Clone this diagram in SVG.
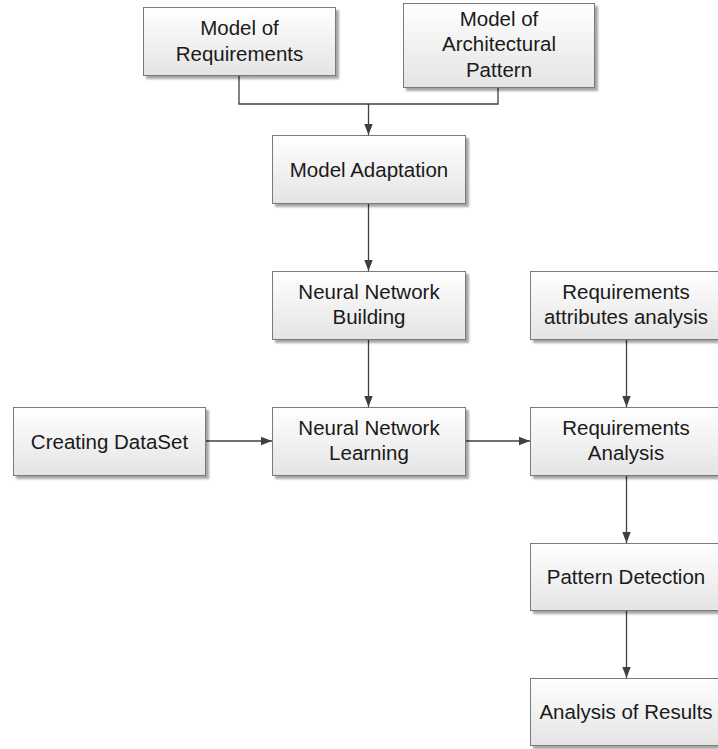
<svg xmlns="http://www.w3.org/2000/svg" width="718" height="749" viewBox="0 0 718 749">
  <defs>
    <linearGradient id="boxFill" x1="0" y1="0" x2="0" y2="1">
      <stop offset="0" stop-color="#ffffff"/>
      <stop offset="1" stop-color="#e4e4e4"/>
    </linearGradient>
    <filter id="shadow" x="-10%" y="-10%" width="130%" height="140%">
      <feGaussianBlur in="SourceAlpha" stdDeviation="1.2"/>
      <feOffset dx="2.5" dy="2.5" result="off"/>
      <feComponentTransfer><feFuncA type="linear" slope="0.35"/></feComponentTransfer>
      <feMerge><feMergeNode/><feMergeNode in="SourceGraphic"/></feMerge>
    </filter>
    <marker id="arrow" markerWidth="12" markerHeight="10" refX="11" refY="5" orient="auto" markerUnits="userSpaceOnUse">
      <path d="M0,0.8 L11,5 L0,9.2 Z" fill="#404040"/>
    </marker>
  </defs>
  <style>
    .box { fill: url(#boxFill); stroke: #7a7a7a; stroke-width: 1; filter: url(#shadow); }
    .label { font-family: "Liberation Sans", Arial, sans-serif; font-size: 20.5px; fill: #1a1a1a; text-anchor: middle; }
    .conn { fill: none; stroke: #404040; stroke-width: 1.3; }
    .conn.arr { marker-end: url(#arrow); }
  </style>
  <rect width="718" height="749" fill="#ffffff"/>

  <g id="connectors">
    <polyline class="conn" points="239,75 239,104 498,104 498,87"/>
    <line class="conn arr" x1="368.5" y1="104" x2="368.5" y2="135"/>
    <line class="conn arr" x1="368.5" y1="203" x2="368.5" y2="271"/>
    <line class="conn arr" x1="368.5" y1="339" x2="368.5" y2="407"/>
    <line class="conn arr" x1="205" y1="441" x2="272" y2="441"/>
    <line class="conn arr" x1="465" y1="441" x2="530" y2="441"/>
    <line class="conn arr" x1="626.5" y1="339" x2="626.5" y2="407"/>
    <line class="conn arr" x1="626.5" y1="475" x2="626.5" y2="543"/>
    <line class="conn arr" x1="626.5" y1="610" x2="626.5" y2="678"/>
  </g>

  <g id="model-requirements">
    <rect class="box" x="143.5" y="7.5" width="192" height="68"/>
    <text class="label" x="239.5" y="35">Model of</text>
    <text class="label" x="239.5" y="61">Requirements</text>
  </g>

  <g id="model-architectural-pattern">
    <rect class="box" x="403.5" y="3.5" width="191" height="84"/>
    <text class="label" x="499" y="25.5">Model of</text>
    <text class="label" x="499" y="51">Architectural</text>
    <text class="label" x="499" y="76.5">Pattern</text>
  </g>

  <g id="model-adaptation">
    <rect class="box" x="272.5" y="135.5" width="193" height="68"/>
    <text class="label" x="369" y="176.5">Model Adaptation</text>
  </g>

  <g id="nn-building">
    <rect class="box" x="272.5" y="271.5" width="193" height="68"/>
    <text class="label" x="369" y="298.5">Neural Network</text>
    <text class="label" x="369" y="324">Building</text>
  </g>

  <g id="creating-dataset">
    <rect class="box" x="13.5" y="407.5" width="192" height="68"/>
    <text class="label" x="109.5" y="448.5">Creating DataSet</text>
  </g>

  <g id="nn-learning">
    <rect class="box" x="272.5" y="407.5" width="193" height="68"/>
    <text class="label" x="369" y="434.5">Neural Network</text>
    <text class="label" x="369" y="460">Learning</text>
  </g>

  <g id="req-attributes-analysis">
    <rect class="box" x="530.5" y="271.5" width="193" height="68"/>
    <text class="label" x="626" y="298.5">Requirements</text>
    <text class="label" x="626" y="324">attributes analysis</text>
  </g>

  <g id="req-analysis">
    <rect class="box" x="530.5" y="407.5" width="193" height="68"/>
    <text class="label" x="626" y="434.5">Requirements</text>
    <text class="label" x="626" y="460">Analysis</text>
  </g>

  <g id="pattern-detection">
    <rect class="box" x="530.5" y="543.5" width="193" height="67"/>
    <text class="label" x="626" y="584">Pattern Detection</text>
  </g>

  <g id="analysis-results">
    <rect class="box" x="530.5" y="678.5" width="193" height="67"/>
    <text class="label" x="626" y="719">Analysis of Results</text>
  </g>
</svg>
